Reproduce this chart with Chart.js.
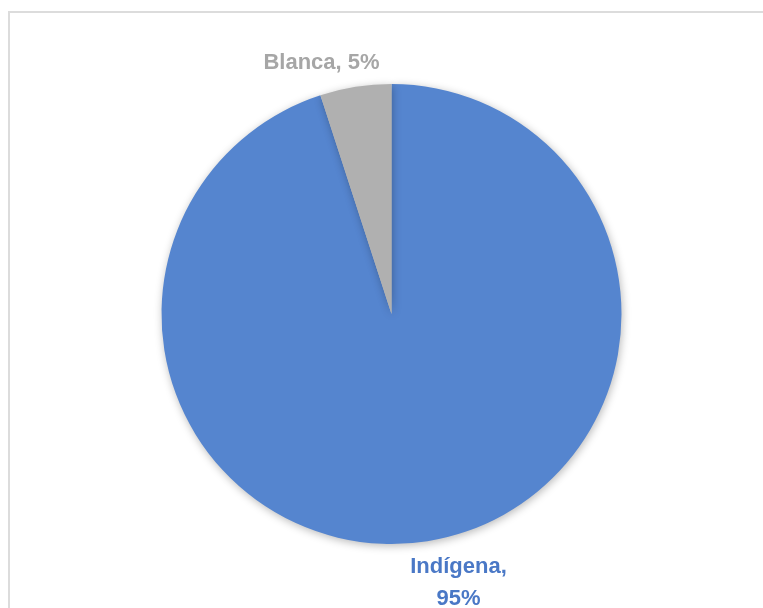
<!DOCTYPE html>
<html>
<head>
<meta charset="utf-8">
<script src="https://cdn.jsdelivr.net/npm/chart.js@4"></script>
<style>
  html, body { margin: 0; padding: 0; background: #fff; overflow: hidden; }
  #wrap { position: relative; width: 763px; height: 608px; }
  #frame { position: absolute; left: 8px; top: 11px; width: 800px; height: 700px;
           border-top: 2px solid #dcdcdc; border-left: 2px solid #dcdcdc; box-sizing: border-box; }
  canvas { position: absolute; left: 0; top: 0; }
</style>
</head>
<body>
<div id="wrap">
  <div id="frame"></div>
  <canvas id="c" width="763" height="608"></canvas>
</div>
<script>
// Population share by ethnic group
const categories = ['Indígena', 'Blanca'];
const shares = [95, 5];

const sliceColors = ['#5585cf', '#b0b0b0'];
const labelColors = ['#4a78c6', '#a6a6a6'];
// label text offset from the slice's outer edge at its mid-angle
const labelOffsets = [[31, 32], [-34, -18]];
// labels split over two lines
const wrapLabel = [true, false];

const sliceLabels = {
  id: 'sliceLabels',
  afterDatasetsDraw(chart) {
    const ctx = chart.ctx;
    const meta = chart.getDatasetMeta(0);
    ctx.save();
    ctx.font = 'bold 22px "Liberation Sans", Arial, sans-serif';
    ctx.textAlign = 'center';
    ctx.textBaseline = 'alphabetic';
    meta.data.forEach((arc, i) => {
      const p = arc.getProps(['x', 'y', 'startAngle', 'endAngle', 'outerRadius'], true);
      const mid = (p.startAngle + p.endAngle) / 2;
      const ax = p.x + Math.cos(mid) * p.outerRadius + labelOffsets[i][0];
      const ay = p.y + Math.sin(mid) * p.outerRadius + labelOffsets[i][1];
      const value = chart.data.datasets[0].data[i] + '%';
      const name = chart.data.labels[i];
      const lines = wrapLabel[i] ? [name + ',', value] : [name + ', ' + value];
      ctx.fillStyle = labelColors[i];
      lines.forEach((t, k) => ctx.fillText(t, ax, ay + k * 32));
    });
    ctx.restore();
  }
};

const pieShadow = {
  id: 'pieShadow',
  beforeDatasetsDraw(chart) {
    const ctx = chart.ctx;
    ctx.save();
    ctx.shadowColor = 'rgba(0,0,0,0.28)';
    ctx.shadowBlur = 9;
    ctx.shadowOffsetX = 1;
    ctx.shadowOffsetY = 2;
  },
  afterDatasetsDraw(chart) {
    chart.ctx.restore();
  }
};

new Chart(document.getElementById('c'), {
  type: 'pie',
  data: {
    labels: categories,
    datasets: [{
      data: shares,
      backgroundColor: sliceColors,
      borderWidth: 0
    }]
  },
  options: {
    responsive: false,
    animation: false,
    rotation: 0,
    layout: { padding: { left: 161, right: 141, top: 84, bottom: 64 } },
    plugins: {
      legend: { display: false },
      tooltip: { enabled: false }
    }
  },
  plugins: [pieShadow, sliceLabels]
});
</script>
</body>
</html>
